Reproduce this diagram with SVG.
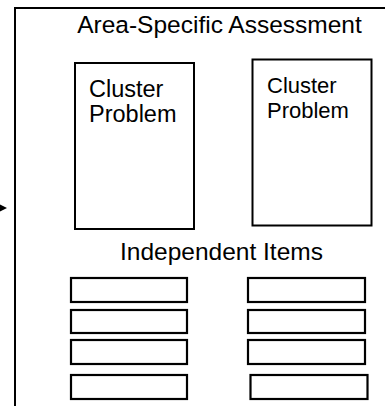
<svg xmlns="http://www.w3.org/2000/svg" width="385" height="406" viewBox="0 0 385 406">
  <style>
    .frame { fill: none; stroke: #000; stroke-width: 2; }
    .box { fill: #fff; stroke: #000; stroke-width: 2; }
    .item { fill: #fff; stroke: #000; stroke-width: 2.2; }
    .label { font-family: "Liberation Sans", Arial, sans-serif; font-size: 24.5px; fill: #000; }
    .cl1 { font-size: 23.5px; }
    .cl2 { font-size: 22px; }
    .conn { fill: none; stroke: #000; stroke-width: 1.5; }
  </style>

  <rect width="385" height="406" fill="#fff"/>

  <!-- enclosing area frame (continues past the right and bottom edges) -->
  <g id="area">
    <path class="frame" d="M15,407 V8 H386"/>
    <text class="label" x="219.5" y="33" text-anchor="middle">Area-Specific Assessment</text>
  </g>

  <!-- incoming connector -->
  <g id="connectors">
    <path class="conn" d="M-4,208 H2"/>
    <polygon points="7,208 0,204.5 0,211.5" fill="#000"/>
  </g>

  <g id="cluster-1">
    <rect class="box" x="75" y="63" width="119" height="166"/>
    <text class="label cl1" x="89" y="97">Cluster</text>
    <text class="label cl1" x="89" y="122">Problem</text>
  </g>

  <g id="cluster-2">
    <rect class="box" x="252.5" y="59.5" width="119" height="166"/>
    <text class="label cl2" x="267" y="93">Cluster</text>
    <text class="label cl2" x="267" y="118">Problem</text>
  </g>

  <g id="independent-items-label">
    <text class="label" x="221.5" y="260" text-anchor="middle">Independent Items</text>
  </g>

  <g id="item-l1"><rect class="item" x="71" y="278" width="116" height="24"/></g>
  <g id="item-l2"><rect class="item" x="71" y="310" width="116" height="23"/></g>
  <g id="item-l3"><rect class="item" x="71" y="340" width="116" height="24"/></g>
  <g id="item-l4"><rect class="item" x="71" y="375" width="116" height="24"/></g>

  <g id="item-r1"><rect class="item" x="248" y="278" width="117" height="24"/></g>
  <g id="item-r2"><rect class="item" x="248" y="310" width="117" height="23"/></g>
  <g id="item-r3"><rect class="item" x="248" y="340" width="117" height="24"/></g>
  <g id="item-r4"><rect class="item" x="250.5" y="375" width="117" height="24"/></g>
</svg>
